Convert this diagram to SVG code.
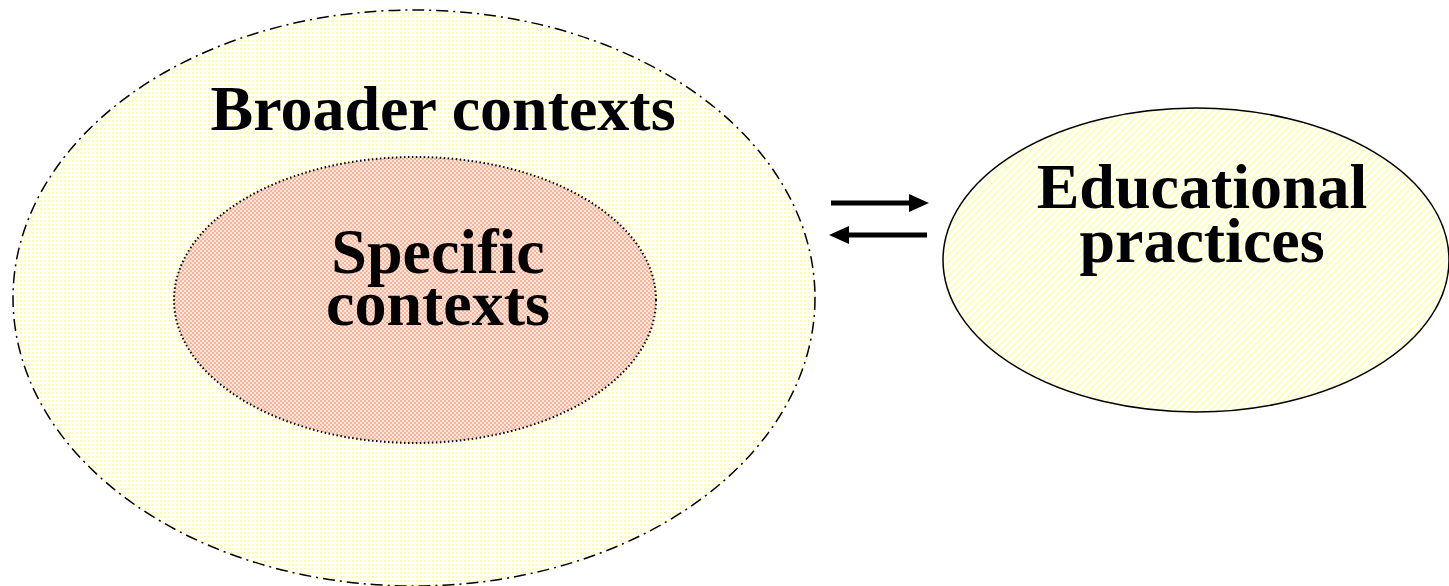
<svg xmlns="http://www.w3.org/2000/svg" width="1449" height="586" viewBox="0 0 1449 586">
<style>
.lbl{font-family:"Liberation Serif","Times New Roman",serif;font-weight:bold;font-size:64px;fill:#000;text-anchor:middle}
.arr{stroke:#000;stroke-width:5;fill:none}
</style>
<defs>
<pattern id="dotY" width="4" height="4" patternUnits="userSpaceOnUse">
<rect width="4" height="4" fill="#ffffff"/>
<rect x="0" y="0" width="2" height="2" fill="#ffff9e"/>
</pattern>
<pattern id="dotR" width="4" height="4" patternUnits="userSpaceOnUse">
<rect width="4" height="4" fill="#fde6dc"/>
<rect x="0" y="0" width="2" height="2" fill="#f9b49c"/>
<rect x="2" y="2" width="2" height="2" fill="#f9b49c"/>
</pattern>
<pattern id="diag" width="5" height="5" patternUnits="userSpaceOnUse" patternTransform="rotate(-45)">
<rect width="5" height="5" fill="#ffffff"/>
<rect width="5" height="2" fill="#ffffb8"/>
</pattern>
<marker id="ah" markerWidth="4" markerHeight="3.6" refX="0" refY="1.8" orient="auto" markerUnits="strokeWidth">
<path d="M0,0 L4,1.8 L0,3.6 Z" fill="#000"/>
</marker>
</defs>
<g id="broader">
<ellipse cx="414" cy="298" rx="401" ry="288" fill="url(#dotY)" stroke="#000" stroke-width="1.5" stroke-dasharray="12 5 2 5"/>
<text class="lbl" x="443" y="130">Broader contexts</text>
</g>
<g id="specific">
<ellipse cx="415" cy="300" rx="241" ry="143" fill="url(#dotR)" stroke="#000" stroke-width="2" stroke-dasharray="1.5 2.5"/>
<text class="lbl" x="438" y="273">Specific</text>
<text class="lbl" x="438" y="325">contexts</text>
</g>
<g id="practices">
<ellipse cx="1196" cy="260" rx="253" ry="152" fill="url(#diag)" stroke="#000" stroke-width="1.5"/>
<text class="lbl" x="1202" y="208">Educational</text>
<text class="lbl" x="1202" y="262">practices</text>
</g>
<g id="connectors">
<line class="arr" x1="831" y1="203" x2="909" y2="203" marker-end="url(#ah)"/>
<line class="arr" x1="927" y1="235" x2="849" y2="235" marker-end="url(#ah)"/>
</g>
</svg>
